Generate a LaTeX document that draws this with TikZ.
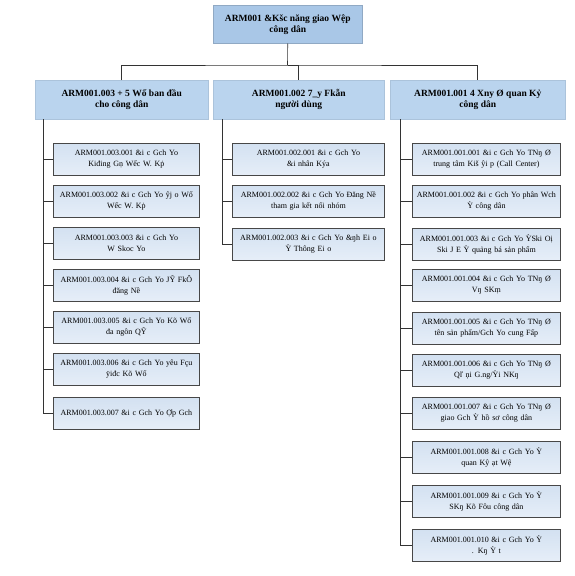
\documentclass[tikz,border=0pt]{standalone}
\usepackage{fontspec}
\setmainfont{Liberation Serif}
\begin{document}
\begin{tikzpicture}[x=1pt,y=-1pt,
  topbox/.style={draw=topfill!85!black,fill=topfill,line width=0.5pt,minimum width=149pt,minimum height=38pt,inner sep=1pt,align=center,font=\fontsize{9.5}{11}\selectfont\bfseries,anchor=north west},
  midbox/.style={draw=midfill!92!black,fill=midfill,line width=0.5pt,minimum height=39pt,inner sep=1pt,align=center,font=\fontsize{9.5}{11}\selectfont\bfseries,anchor=north west},
  leafbox/.style={draw=black!72,top color=leaftop,bottom color=leafbot,line width=0.8pt,minimum height=32pt,inner sep=1pt,align=center,font=\fontsize{8}{11}\selectfont,anchor=north west},
  conn/.style={draw=black!80,line width=0.6pt}]
\definecolor{topfill}{HTML}{A9C7E7}
\definecolor{midfill}{HTML}{BAD4EE}
\definecolor{leaftop}{HTML}{D3E1F1}
\definecolor{leafbot}{HTML}{E6EEF8}
\useasboundingbox (0,0) rectangle (575,576);
\fill[white] (0,0) rectangle (575,576);
% top
\node[topbox] (top) at (213,5) {ARM001 \&Kšc năng giao Wệp\\công dân};
% level 2
\node[midbox,minimum width=173pt] (L) at (35,80) {ARM001.003 + 5 Wố ban đầu\\cho công dân};
\node[midbox,minimum width=171pt] (M) at (213,80) {ARM001.002 7\_y Fkẫn\\người dùng};
\node[midbox,minimum width=175pt] (R) at (390,80) {ARM001.001 4 Xny Ø quan Kỷ\\công dân};
\coordinate (j) at (287.5,65);
\draw[conn] (top.south) -- (j);
\draw[conn] (L.north) |- (j) -| (R.north);
\draw[conn] (j) -| (M.north);
% left leaves
\begin{scope}[every node/.style={leafbox,minimum width=146pt,text width=144pt}]
\node (l1) at (53,143) {ARM001.003.001 \&i c Gch Yo\\Kiđing Gṇ Wếc W. Kṗ};
\node (l2) at (53,185) {ARM001.003.002 \&i c Gch Yo ŷj o Wố\\Wếc W. Kṗ};
\node (l3) at (53,227) {ARM001.003.003 \&i c Gch Yo\\W Skoc Yo};
\node (l4) at (53,269) {ARM001.003.004 \&i c Gch Yo JỸ FkÔ\\đăng Nề};
\node (l5) at (53,311) {ARM001.003.005 \&i c Gch Yo Kõ Wố\\đa ngôn QỸ};
\node (l6) at (53,353) {ARM001.003.006 \&i c Gch Yo yêu Fçu\\ÿiđc Kõ Wố};
\node (l7) at (53,397) {ARM001.003.007 \&i c Gch Yo Ợp Gch};
\end{scope}
\coordinate (lt) at (43,119);
\draw[conn] (lt) |- (l7.west);
\foreach \n in {l1,l2,l3,l4,l5,l6} \draw[conn] (\n.west) -- (\n.west -| lt);
% middle leaves
\begin{scope}[every node/.style={leafbox,minimum width=152pt,text width=150pt}]
\node (m1) at (232,143) {ARM001.002.001 \&i c Gch Yo\\\&i nhân Kýa};
\node (m2) at (232,185) {ARM001.002.002 \&i c Gch Yo Đăng Nề\\tham gia kết nối nhóm};
\node (m3) at (232,228) {ARM001.002.003 \&i c Gch Yo \&ŋh Ei o\\Ỳ Thông Ei o};
\end{scope}
\coordinate (mt) at (222,119);
\draw[conn] (mt) |- (m3.west);
\foreach \n in {m1,m2} \draw[conn] (\n.west) -- (\n.west -| mt);
% right leaves
\begin{scope}[every node/.style={leafbox,minimum width=148pt,text width=146pt}]
\node (r1) at (412,143) {ARM001.001.001 \&i c Gch Yo TNŋ Ø\\trung tâm Kiš ŷi p (Call Center)};
\node (r2) at (412,185) {ARM001.001.002 \&i c Gch Yo phân Wch\\Ỳ công dân};
\node (r3) at (412,228) {ARM001.001.003 \&i c Gch Yo ỲSki Oị\\Ski J E Ỳ quảng bá sản phẩm};
\node (r4) at (412,269) {ARM001.001.004 \&i c Gch Yo TNŋ Ø\\Vŋ SKṃ};
\node (r5) at (412,312) {ARM001.001.005 \&i c Gch Yo TNŋ Ø\\tên sản phẩm/Gch Yo cung Fấp};
\node (r6) at (412,354) {ARM001.001.006 \&i c Gch Yo TNŋ Ø\\Qľ ņi G.ng/Ỳi NKŋ};
\node (r7) at (412,397) {ARM001.001.007 \&i c Gch Yo TNŋ Ø\\giao Gch Ỳ hồ sơ công dân};
\node (r8) at (412,441) {ARM001.001.008 \&i c Gch Yo Ỳ\\quan Kŷ ạt Wệ};
\node (r9) at (412,485) {ARM001.001.009 \&i c Gch Yo Ỳ\\SKŋ Kõ Fôu công dân};
\node (r10) at (412,529) {ARM001.001.010 \&i c Gch Yo Ỳ\\. Kŋ Ỳ t};
\end{scope}
\coordinate (rt) at (400,119);
\draw[conn] (rt) |- (r10.west);
\foreach \n in {r1,r2,r3,r4,r5,r6,r7,r8,r9} \draw[conn] (\n.west) -- (\n.west -| rt);
\end{tikzpicture}
\end{document}
